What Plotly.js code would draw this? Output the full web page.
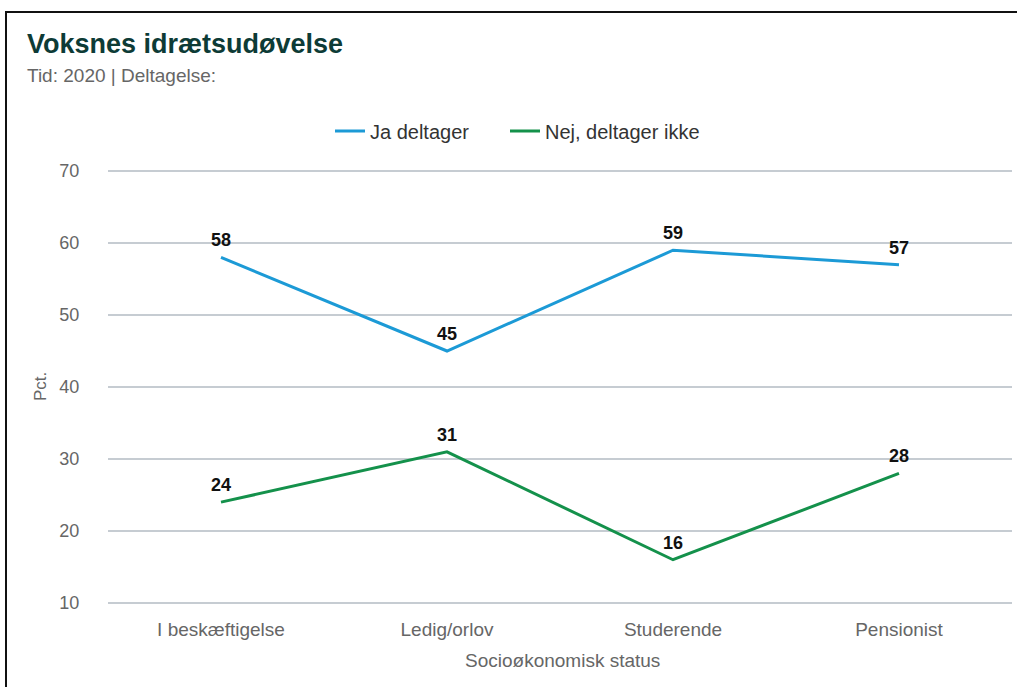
<!DOCTYPE html>
<html>
<head>
<meta charset="utf-8">
<script src="https://cdn.plot.ly/plotly-3.0.1.min.js"></script>
<style>
  html, body { margin: 0; padding: 0; background: #fff; }
  #chart { position: absolute; left: 0; top: 0; width: 1017px; height: 687px; }
  #frame { position: absolute; left: 5px; top: 11px; width: 1020px; height: 700px;
           border-left: 2px solid #111; border-top: 2px solid #111; pointer-events: none; }
</style>
</head>
<body>
<div id="chart"></div>
<div id="frame"></div>
<script>
const categories = ["I beskæftigelse", "Ledig/orlov", "Studerende", "Pensionist"];
const jaDeltager = [58, 45, 59, 57];
const nejDeltager = [24, 31, 16, 28];
const seriesNames = ["Ja deltager", "Nej, deltager ikke"];
const yTicks = [10, 20, 30, 40, 50, 60, 70];

const labelFont = { family: "Liberation Sans Narrow, Liberation Sans, Arial, sans-serif", size: 18, color: "#111", weight: "bold" };

const traces = [
  {
    x: categories, y: jaDeltager, name: seriesNames[0], type: "scatter", mode: "lines+markers+text",
    line: { color: "#1c9ad6", width: 3 },
    marker: { size: 9, color: "rgba(0,0,0,0)", line: { width: 0 } },
    text: jaDeltager.map(String), textposition: "top center",
    textfont: labelFont, cliponaxis: false, hoverinfo: "skip", legend: "legend"
  },
  {
    x: categories, y: nejDeltager, name: seriesNames[1], type: "scatter", mode: "lines+markers+text",
    line: { color: "#14914b", width: 3 },
    marker: { size: 9, color: "rgba(0,0,0,0)", line: { width: 0 } },
    text: nejDeltager.map(String), textposition: "top center",
    textfont: labelFont, cliponaxis: false, hoverinfo: "skip", legend: "legend2"
  }
];

const L = 108, R = 1012, T = 170, B = 604;
const W = R - L, H = B - T;
const px = v => (v - L) / W;
const py = v => (B - v) / H;

const legendBase = {
  orientation: "h", xanchor: "left", y: py(131), yanchor: "middle",
  font: { size: 20, color: "#333" }, bgcolor: "rgba(0,0,0,0)"
};

const layout = {
  width: 1017, height: 687,
  margin: { l: L, r: 1017 - R, t: T, b: 687 - B, pad: 0 },
  paper_bgcolor: "#fff", plot_bgcolor: "#fff",
  font: { family: "Liberation Sans, Arial, sans-serif", size: 18, color: "#666" },
  showlegend: true,
  legend: Object.assign({}, legendBase, { x: px(330) }),
  legend2: Object.assign({}, legendBase, { x: px(505) }),
  xaxis: {
    type: "category", range: [-0.5, 3.5], showgrid: false, zeroline: false, showline: false,
    ticks: "outside", ticklen: 8, tickcolor: "rgba(0,0,0,0)",
    tickfont: { size: 19, color: "#666" }, fixedrange: true
  },
  yaxis: {
    range: [9.85, 70.15], tickvals: yTicks, ticktext: yTicks.map(String),
    showgrid: true, gridcolor: "#c6ccd2", gridwidth: 1.5, zeroline: false, showline: false,
    ticks: "outside", ticklen: 24, tickcolor: "rgba(0,0,0,0)",
    tickfont: { size: 18, color: "#666" }, fixedrange: true
  },
  annotations: [
    { text: "<b>Voksnes idrætsudøvelse</b>", xref: "paper", yref: "paper", x: px(25), y: py(44),
      xanchor: "left", yanchor: "middle", showarrow: false,
      font: { size: 27, color: "#0d3b36", family: "Liberation Sans, Arial, sans-serif" } },
    { text: "Tid: 2020 | Deltagelse:", xref: "paper", yref: "paper", x: px(25), y: py(76),
      xanchor: "left", yanchor: "middle", showarrow: false,
      font: { size: 19, color: "#666" } },
    { text: "Pct.", xref: "paper", yref: "paper", x: px(40), y: py(387), textangle: -90,
      xanchor: "center", yanchor: "middle", showarrow: false,
      font: { size: 17, color: "#666" } },
    { text: "Socioøkonomisk status", xref: "paper", yref: "paper", x: px(562), y: py(660),
      xanchor: "center", yanchor: "middle", showarrow: false,
      font: { size: 19, color: "#666" } }
  ]
};

Plotly.newPlot("chart", traces, layout, { displayModeBar: false, staticPlot: true });
</script>
</body>
</html>
